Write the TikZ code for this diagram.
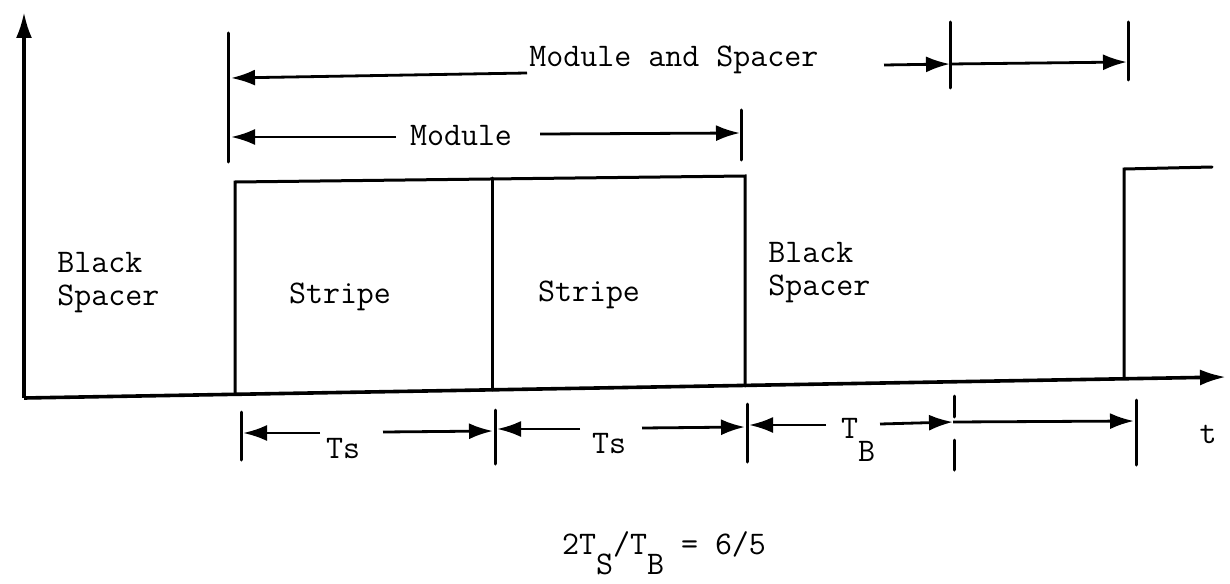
\documentclass[tikz,border=0pt]{standalone}
\usepackage{fontspec}
\usetikzlibrary{arrows.meta}
\begin{document}
\begin{tikzpicture}[x=0.5pt,y=-0.5pt,
  ln/.style={line width=1.5pt, line cap=round},
  axis/.style={line width=1.8pt, -{Latex[length=13pt,width=8pt]}},
  dim/.style={line width=1.4pt, -{Latex[length=12pt,width=8pt]}},
  lbl/.style={font=\fontsize{16.5}{16.5}\selectfont\ttfamily\addfontfeatures{FakeBold=0.8}, inner sep=1pt, align=left},
]
\useasboundingbox (0,0) rectangle (1230,583);

% axes
\coordinate (O) at (24,398);
\coordinate (ytop) at (24,12);
\coordinate (xend) at (1226,377);
\draw[axis] (O) -- (ytop);
\draw[axis] (O) -- (xend);

% pulse train
\coordinate (a1) at (235,394);
\coordinate (a2) at (235,182);
\coordinate (b1) at (492,178);
\coordinate (b2) at (492,390);
\coordinate (c1) at (745,176);
\coordinate (c2) at (745,386);
\draw[ln] (a1) -- (a2) -- (c1) -- (c2);
\draw[ln] (b1) -- (b2);
\coordinate (d1) at (1124,378);
\coordinate (d2) at (1124,169);
\coordinate (d3) at (1212,167);
\draw[ln] (d1) -- (d2) -- (d3);

% labels inside
\node[lbl, anchor=west] (bs1) at (55,283) {Black\\Spacer};
\node[lbl] (st1) at (340,297) {Stripe};
\node[lbl] (st2) at (589,295) {Stripe};
\node[lbl, anchor=west] (bs2) at (766,273) {Black\\Spacer};

% top ticks
\coordinate (t1a) at (228,33);  \coordinate (t1b) at (228,162);
\coordinate (t2a) at (741,110); \coordinate (t2b) at (741,160);
\coordinate (t3a) at (950,22);  \coordinate (t3b) at (950,88);
\coordinate (t4a) at (1128,22); \coordinate (t4b) at (1128,80);
\draw[ln] (t1a) -- (t1b);
\draw[ln] (t2a) -- (t2b);
\draw[ln] (t3a) -- (t3b);
\draw[ln] (t4a) -- (t4b);

% Module and Spacer
\node[lbl, anchor=west] (mas) at (527,60) {Module and Spacer};
\coordinate (m1) at (527,73);
\coordinate (m1e) at (231,78);
\draw[dim] (m1) -- (m1e);
\coordinate (m2) at (884,65);
\coordinate (m2e) at (950,64);
\coordinate (m3e) at (1127,62);
\draw[dim] (m2) -- (m2e);
\draw[dim] (m2e) -- (m3e);

% Module
\node[lbl] (mod) at (461,136) {Module};
\coordinate (n1) at (396,137);
\coordinate (n1e) at (231,137);
\coordinate (n2) at (540,134);
\coordinate (n2e) at (740,133);
\draw[dim] (n1) -- (n1e);
\draw[dim] (n2) -- (n2e);

% bottom ticks
\draw[ln] (241,412) -- (241,460);
\draw[ln] (495,410) -- (495,464);
\draw[ln] (747,404) -- (747,462);
\draw[ln] (954,396) -- (954,417);
\draw[ln] (954,440) -- (954,470);
\draw[ln] (1136,400) -- (1136,465);

% bottom dimension arrows
\node[lbl] (ts1) at (343,449) {Ts};
\node[lbl] (ts2) at (609,444) {Ts};
\node[lbl] (tb) at (858,440) {T\raisebox{-1.6ex}{B}};
\node[lbl] (tt) at (1208,434) {t};

\draw[dim] (320,433) -- (243,433);
\draw[dim] (383,432) -- (493,431);
\draw[dim] (580,429) -- (497,429);
\draw[dim] (642,428) -- (745,427);
\draw[dim] (826,425) -- (749,425);
\draw[dim] (880,424) -- (953,422);
\draw[dim] (953,422) -- (1134,421);

% formula
\node[lbl] (eq) at (664,553) {2T\raisebox{-1.4ex}{S}/T\raisebox{-1.4ex}{B} = 6/5};
\end{tikzpicture}
\end{document}
